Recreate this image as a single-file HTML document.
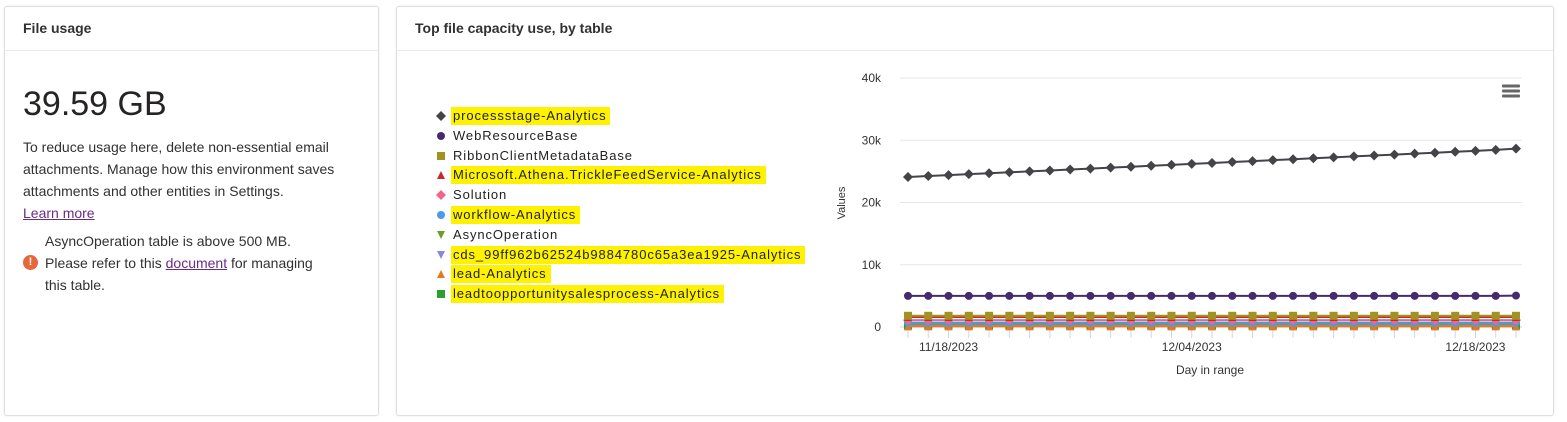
<!DOCTYPE html>
<html><head><meta charset="utf-8">
<style>
body{margin:0;width:1567px;height:422px;background:#fff;font-family:"Liberation Sans",sans-serif;color:#323130;position:relative;overflow:hidden}
.card{position:absolute;background:#fff;border:1px solid #e1dfdd;border-radius:3px;box-shadow:0 0 2px rgba(0,0,0,.08)}
.hdr{position:absolute;left:0;right:0;top:0;height:43px;border-bottom:1px solid #edebe9;font-size:14px;font-weight:bold;line-height:43px;padding-left:18px;color:#323130}
a{color:#6b2a86}
.lg{position:absolute;left:437px;font-size:13px;letter-spacing:0.9px;color:#222;height:18px;line-height:18px}
.lg span.t{position:absolute;left:16px;white-space:nowrap}
.hl{background:#fff200;padding:0 4px 0 2px;margin-left:-2px}
</style></head><body>
<div class="card" style="left:4px;top:6px;width:373px;height:408px">
 <div class="hdr">File usage</div>
 <div style="position:absolute;left:18px;top:78px;font-size:34px;color:#252423">39.59 GB</div>
 <div style="position:absolute;left:18px;top:129px;width:332px;font-size:14px;line-height:22px">To reduce usage here, delete non-essential email attachments. Manage how this environment saves attachments and other entities in Settings.<br><a href="#">Learn more</a></div>
 <div style="position:absolute;left:18px;top:248px;width:15px;height:15px;border-radius:50%;background:#e5673a;color:#fff;font-size:11px;font-weight:bold;text-align:center;line-height:15px">!</div>
 <div style="position:absolute;left:40px;top:223px;width:290px;font-size:14px;line-height:22px">AsyncOperation table is above 500 MB. Please refer to this <a href="#">document</a> for managing this table.</div>
</div>
<div class="card" style="left:396px;top:6px;width:1156px;height:408px">
 <div class="hdr">Top file capacity use, by table</div>
</div>
<div id="legend"></div>
<svg id="chart" width="1567" height="422" style="position:absolute;left:0;top:0"></svg>
<script>
const seriesNames=["processstage-Analytics","WebResourceBase","RibbonClientMetadataBase","Microsoft.Athena.TrickleFeedService-Analytics","Solution","workflow-Analytics","AsyncOperation","cds_99ff962b62524b9884780c65a3ea1925-Analytics","lead-Analytics","leadtoopportunitysalesprocess-Analytics"];
const highlighted=[true,false,false,true,false,true,false,true,true,true];
const colors=["#434348","#452b6e","#a39122","#c42b2b","#f0668a","#4a9be8","#6e9e1e","#8a86e0","#e6781e","#2ca02c"];
const shapes=["diamond","circle","square","triangle","diamond","circle","triangle-down","triangle-down","triangle","square"];
const dayLabels=["11/18/2023","12/04/2023","12/18/2023"];
const dayLabelIdx=[2,14,28];
const yTicks=[0,10000,20000,30000,40000];
const yTickLabels=["0","10k","20k","30k","40k"];
const processstage=[24100,24250,24400,24550,24700,24850,25000,25150,25300,25450,25600,25750,25900,26050,26200,26350,26500,26650,26800,26950,27100,27250,27400,27550,27700,27850,28000,28150,28300,28450,28650];
const webResource=[5000,5000,5000,5000,5000,5000,5000,5000,5000,5000,5000,5000,5000,5000,5000,5000,5000,5000,5000,5000,5000,5000,5000,5000,5000,5000,5000,5000,5000,5000,5050];
const ribbon=new Array(31).fill(1800);
const athena=new Array(31).fill(1600);
const solution=new Array(31).fill(1100);
const workflow=new Array(31).fill(700);
const asyncOp=new Array(31).fill(550);
const cds=new Array(31).fill(400);
const lead=new Array(31).fill(100);
const leadOpp=new Array(31).fill(250);
const seriesData=[processstage,webResource,ribbon,athena,solution,workflow,asyncOp,cds,lead,leadOpp];

const NS="http://www.w3.org/2000/svg";
const svg=document.getElementById('chart');
const x0=908,x1=1516,y0=327,y40=78,pl=900,pr=1522;
const X=i=>x0+(x1-x0)*i/30;
const Y=v=>y0-(y0-y40)*v/40000;
function mk(t,a,p){const e=document.createElementNS(NS,t);for(const k in a)e.setAttribute(k,a[k]);(p||svg).appendChild(e);return e;}
function marker(shape,cx,cy,r,fill,p){
 let e;
 if(shape==="circle")e=mk('circle',{cx,cy,r,fill},p);
 else if(shape==="square")e=mk('rect',{x:cx-r,y:cy-r,width:2*r,height:2*r,fill},p);
 else if(shape==="diamond")e=mk('path',{d:`M${cx} ${cy-r-1}L${cx+r+1} ${cy}L${cx} ${cy+r+1}L${cx-r-1} ${cy}Z`,fill},p);
 else if(shape==="triangle")e=mk('path',{d:`M${cx} ${cy-r}L${cx+r} ${cy+r}L${cx-r} ${cy+r}Z`,fill},p);
 else e=mk('path',{d:`M${cx-r} ${cy-r}L${cx+r} ${cy-r}L${cx} ${cy+r}Z`,fill},p);
 return e;
}
yTicks.forEach((v,i)=>{
 const g=mk('line',{x1:pl,x2:pr,y1:Y(v),y2:Y(v),stroke:i===0?'#ccd6eb':'#e6e6e6','stroke-width':1});
 
 
 const t=mk('text',{x:881,y:Y(v)+4,'text-anchor':'end','font-size':12,fill:'#333'});
 t.textContent=yTickLabels[i];
 
 
});
for(let i=0;i<31;i++){
 const l=mk('line',{x1:X(i),x2:X(i),y1:y0,y2:y0+11,stroke:'#ccd6eb'});
 
 
}
dayLabels.forEach((d,k)=>{
 const t=mk('text',{x:X(dayLabelIdx[k]),y:351,'text-anchor':'middle','font-size':12,fill:'#333'});
 t.textContent=d;
 
 
});
const yt=mk('text',{x:845,y:203,'text-anchor':'middle','font-size':11,fill:'#333',transform:'rotate(-90 845 203)'});
yt.textContent='Values';


const xt=mk('text',{x:1210,y:374,'text-anchor':'middle','font-size':12,fill:'#333'});
xt.textContent='Day in range';


for(let s=seriesData.length-1;s>=0;s--){
 const g=mk('g',{});
 
 
 const vals=seriesData[s];
 mk('polyline',{points:vals.map((v,i)=>X(i)+','+Y(v)).join(' '),fill:'none',stroke:colors[s],'stroke-width':2},g);
 vals.forEach((v,i)=>{const m=marker(shapes[s],X(i),Y(v),4,colors[s],g);
  
  });
}
const menu=mk('g',{});


[86,91,96].forEach(y=>mk('rect',{x:1502,y:y-1.5,width:18,height:3,rx:1,fill:'#666'},menu));
const lg=document.getElementById('legend');
seriesNames.forEach((n,i)=>{
 const d=document.createElement('div');
 d.className='lg';d.style.top=(107+i*19.8)+'px';
 
 
 const s=document.createElementNS(NS,'svg');s.setAttribute('width',12);s.setAttribute('height',18);
 s.style.position='absolute';s.style.left='-2px';s.style.top='0';
 marker(shapes[i],6,9,4,colors[i],s);
 d.appendChild(s);
 const t=document.createElement('span');t.className='t'+(highlighted[i]?' hl':'');t.textContent=n;
 d.appendChild(t);lg.appendChild(d);
});
</script>
</body></html>
